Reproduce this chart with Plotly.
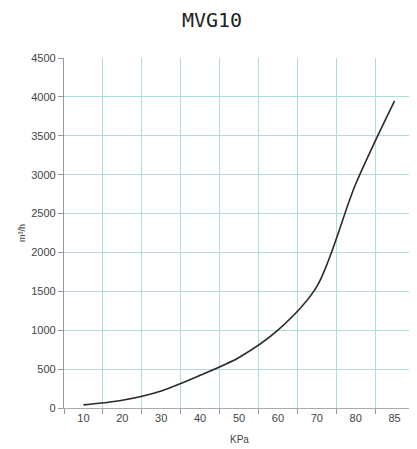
import plotly.graph_objects as go

pressure_labels = ["10", "20", "30", "40", "50", "60", "70", "80", "85"]
airflow = [40, 100, 220, 420, 650, 1000, 1560, 2880, 3950]
y_ticks = [0, 500, 1000, 1500, 2000, 2500, 3000, 3500, 4000, 4500]

W, H = 409, 441  # page body has an 8px margin in the 417x449 window

fig = go.Figure()
fig.add_trace(go.Scatter(
    x=pressure_labels, y=airflow, mode="lines",
    line=dict(color="#2a2a2a", width=1.6, shape="spline", smoothing=0.85),
    showlegend=False,
))

grid = "#b3dadd"
fig.update_layout(
    width=W, height=H,
    margin=dict(l=56, r=3, t=50, b=41, autoexpand=False),
    paper_bgcolor="white", plot_bgcolor="white",
    title=dict(text="MVG10", x=204 / W, xanchor="center", xref="container",
               y=1 - 12 / H, yanchor="middle", yref="container",
               font=dict(family="DejaVu Sans Mono", size=20, color="#222")),
    xaxis=dict(
        type="category", tickson="boundaries", range=[-0.5, 8.5], automargin=False,
        showgrid=True, gridcolor=grid, gridwidth=1.2,
        ticks="outside", ticklen=5, tickcolor="#999",
        showline=True, linecolor="#aaa", linewidth=1, mirror=False,
        tickfont=dict(family="Liberation Sans", size=11, color="#444"),
    ),
    yaxis=dict(
        range=[0, 4500], tickvals=y_ticks, showgrid=True, gridcolor=grid, gridwidth=1.2,
        automargin=False,
        ticks="outside", ticklen=5, tickcolor="#999",
        showline=True, linecolor="#999", linewidth=1.2,
        tickfont=dict(family="Liberation Sans", size=11, color="#444"),
        zeroline=False,
    ),
    annotations=[
        dict(text="KPa", xref="paper", yref="paper", x=0.5, y=-0.09, yanchor="middle",
             showarrow=False, font=dict(family="Liberation Sans", size=10, color="#444")),
        dict(text="m³/h", xref="paper", yref="paper", x=-0.14, y=0.5, textangle=-90,
             showarrow=False, font=dict(family="Liberation Sans", size=9, color="#444")),
    ],
)
fig.add_shape(type="line", xref="paper", yref="paper", x0=1, x1=1, y0=0, y1=1,
              line=dict(color="#ccc", width=1))
fig.write_html("out.html")
